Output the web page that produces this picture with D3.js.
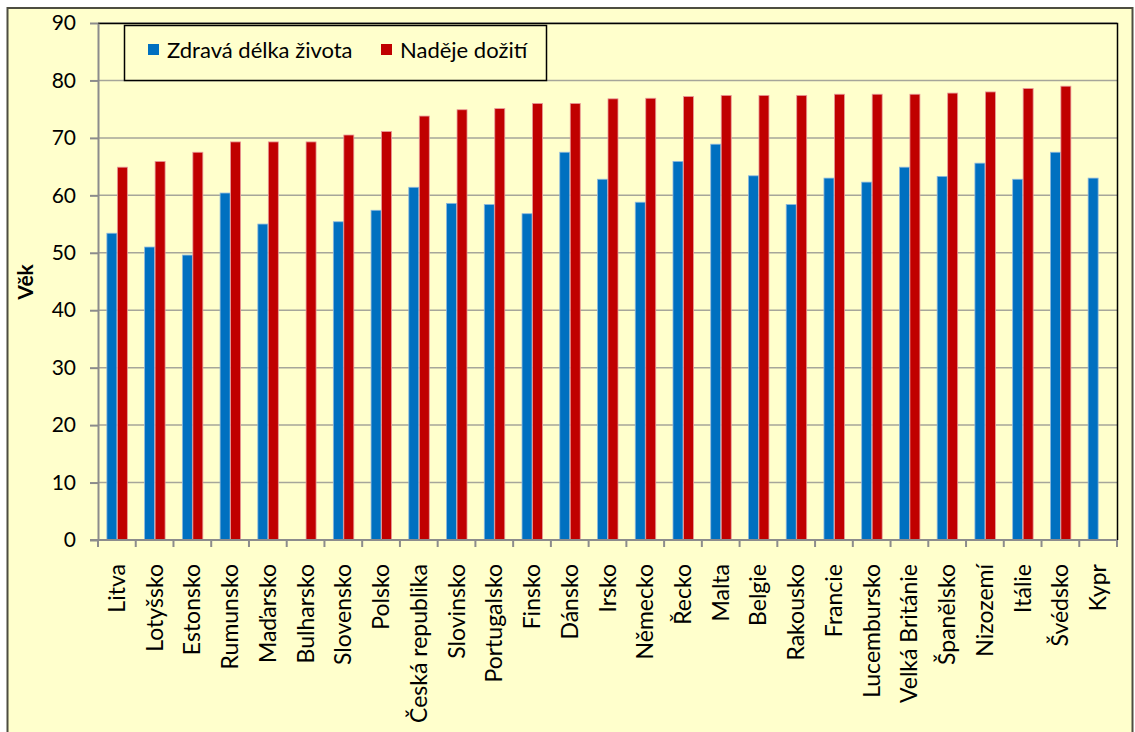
<!DOCTYPE html>
<html>
<head>
<meta charset="utf-8">
<script src="https://cdn.jsdelivr.net/npm/d3@7"></script>
<style>
  body { margin: 0; background: #fff; }
  svg text { font-family: Lato, "Open Sans", sans-serif; fill: #000; }
</style>
</head>
<body>
<svg id="chart" width="1135" height="732"></svg>
<script>
// data
var zeme = ["Litva", "Lotyšsko", "Estonsko", "Rumunsko", "Maďarsko", "Bulharsko", "Slovensko", "Polsko",
  "Česká republika", "Slovinsko", "Portugalsko", "Finsko", "Dánsko", "Irsko", "Německo", "Řecko", "Malta",
  "Belgie", "Rakousko", "Francie", "Lucembursko", "Velká Británie", "Španělsko", "Nizozemí", "Itálie",
  "Švédsko", "Kypr"];
var zdrava = [53.4, 51.0, 49.6, 60.4, 55.0, null, 55.4, 57.4, 61.4, 58.6, 58.4, 56.8, 67.5, 62.8, 58.8, 65.9,
  68.9, 63.4, 58.4, 63.0, 62.3, 64.9, 63.3, 65.6, 62.8, 67.5, 63.0];
var nadeje = [64.9, 65.9, 67.5, 69.3, 69.3, 69.3, 70.5, 71.1, 73.8, 74.9, 75.1, 76.0, 76.0, 76.8, 76.9, 77.2,
  77.4, 77.4, 77.4, 77.6, 77.6, 77.6, 77.8, 78.0, 78.6, 79.0, null];
var serie = ["Zdravá délka života", "Naděje dožití"];
var barvy = ["#0070C0", "#C00000"];
var okraje = ["#8DB8DE", "#E89A9A"];
var yTicks = [0, 10, 20, 30, 40, 50, 60, 70, 80, 90];

var svg = d3.select("#chart");
var pLeft = 98, pRight = 1117, pTop = 23, pBottom = 540;

// chart area
svg.append("rect")
  .attr("x", 7.5).attr("y", 8)
  .attr("width", 1125).attr("height", 740)
  .attr("fill", "#FFFFCC")
  .attr("stroke", "#4d4d40").attr("stroke-width", 2);

var x0 = d3.scaleBand().domain(zeme).range([pLeft, pRight]).paddingInner(0.444).paddingOuter(0.222);
var x1 = d3.scaleBand().domain([0, 1]).range([0, x0.bandwidth()]);
var y = d3.scaleLinear().domain([0, 90]).range([pBottom, pTop]);

// gridlines
svg.append("g").selectAll("line")
  .data(yTicks.slice(1))
  .enter().append("line")
  .attr("x1", pLeft).attr("x2", pRight)
  .attr("y1", function (d) { return y(d); })
  .attr("y2", function (d) { return y(d); })
  .attr("stroke", "#a6a69a").attr("stroke-width", 1.5);

// plot area border (top + right)
svg.append("path")
  .attr("d", "M" + pLeft + "," + (pTop + 0.5) + "H" + (pRight + 0.5) + "V" + pBottom)
  .attr("fill", "none").attr("stroke", "#000").attr("stroke-width", 1.5);

// bars
var rows = zeme.map(function (z, i) { return { z: z, v: [zdrava[i], nadeje[i]] }; });
var g = svg.append("g").selectAll("g")
  .data(rows)
  .enter().append("g")
  .attr("transform", function (d) { return "translate(" + x0(d.z) + ",0)"; });

g.selectAll("rect")
  .data(function (d) { return d.v.map(function (v, k) { return { k: k, v: v }; }).filter(function (e) { return e.v != null; }); })
  .enter().append("rect")
  .attr("x", function (d) { return x1(d.k) + 0.5; })
  .attr("y", function (d) { return y(d.v); })
  .attr("width", x1.bandwidth() - 0.5)
  .attr("height", function (d) { return y(0) - y(d.v); })
  .attr("fill", function (d) { return barvy[d.k]; })
  .attr("stroke", function (d) { return okraje[d.k]; })
  .attr("stroke-width", 0.8);

// y axis
var yAxis = svg.append("g")
  .attr("transform", "translate(" + pLeft + ",0)")
  .call(d3.axisLeft(y).tickValues(yTicks).tickSize(8).tickPadding(14).tickSizeOuter(0));
yAxis.select(".domain").attr("stroke", "#8c8c8c").attr("stroke-width", 2);
yAxis.selectAll(".tick line").attr("stroke", "#8c8c8c").attr("stroke-width", 2);
yAxis.selectAll("text").style("font-size", "21px").attr("fill", "#000");

// x axis: ticks at category boundaries
var hranice = zeme.map(function (z) { return x0(z) - x0.step() * x0.paddingInner() / 2; });
hranice.push(pRight);
var xAxis = svg.append("g");
xAxis.append("line")
  .attr("x1", pLeft - 8).attr("x2", pRight)
  .attr("y1", pBottom).attr("y2", pBottom)
  .attr("stroke", "#8c8c8c").attr("stroke-width", 2);
xAxis.selectAll(".tk")
  .data(hranice)
  .enter().append("line")
  .attr("class", "tk")
  .attr("x1", function (d) { return d; }).attr("x2", function (d) { return d; })
  .attr("y1", pBottom).attr("y2", pBottom + 7)
  .attr("stroke", "#8c8c8c").attr("stroke-width", 2);
xAxis.selectAll("text")
  .data(zeme)
  .enter().append("text")
  .attr("transform", function (d) { return "translate(" + (x0(d) + x0.bandwidth() / 2 + 8) + "," + 564 + ") rotate(-90)"; })
  .attr("text-anchor", "end")
  .style("font-size", "23px")
  .text(function (d) { return d; });

// y title
svg.append("text")
  .attr("transform", "translate(33,282) rotate(-90)")
  .attr("text-anchor", "middle")
  .style("font-size", "21px")
  .style("font-weight", "bold")
  .text("Věk");

// legend
var leg = svg.append("g");
leg.append("rect")
  .attr("x", 124.5).attr("y", 25.5)
  .attr("width", 422).attr("height", 55)
  .attr("fill", "#FFFFCC").attr("stroke", "#000").attr("stroke-width", 1.5);
var legX = [148, 381];
serie.forEach(function (s, i) {
  leg.append("rect")
    .attr("x", legX[i]).attr("y", 44)
    .attr("width", 11).attr("height", 11)
    .attr("fill", barvy[i]);
  leg.append("text")
    .attr("x", legX[i] + 19).attr("y", 58)
    .style("font-size", "22px")
    .text(s);
});
</script>
</body>
</html>
